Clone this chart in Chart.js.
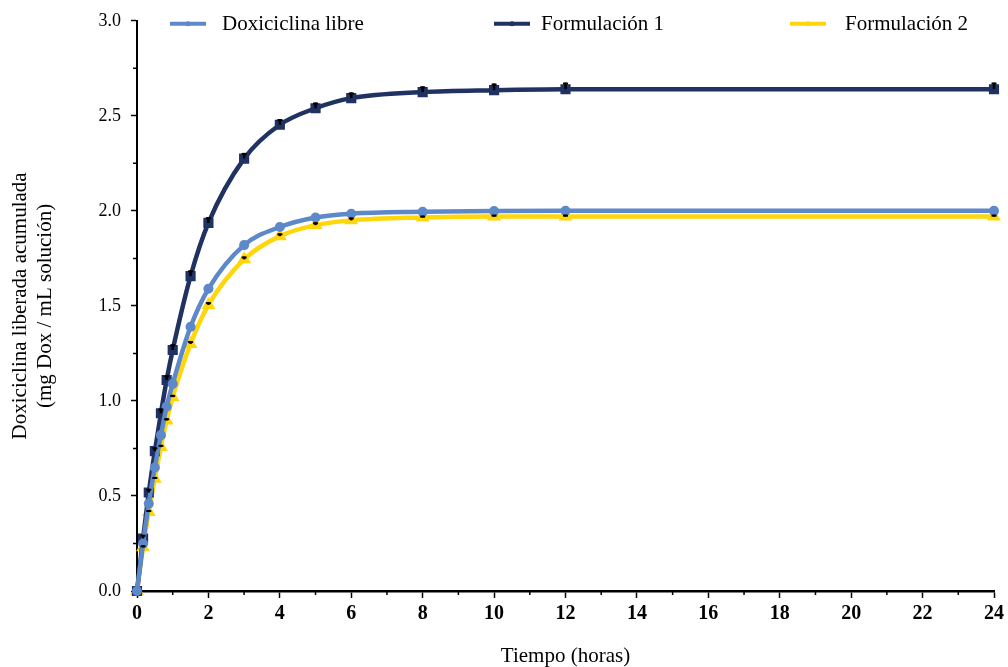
<!DOCTYPE html>
<html lang="es">
<head>
<meta charset="UTF-8">
<title>Doxiciclina liberada acumulada</title>
<script src="https://cdn.jsdelivr.net/npm/chart.js@4.4.1/dist/chart.umd.min.js"></script>
<style>
  html, body { margin: 0; padding: 0; background: #fff; }
</style>
</head>
<body>
<canvas id="grafico" width="1008" height="667"></canvas>
<script>
// tiempos de muestreo (horas)
const tiempos = [0, 0.17, 0.33, 0.5, 0.67, 0.83, 1, 1.5, 2, 3, 4, 5, 6, 8, 10, 12, 24];

// mg Dox / mL solucion
const doxLibre     = [0, 0.25, 0.46, 0.65, 0.82, 0.97, 1.09, 1.39, 1.59, 1.82, 1.915, 1.965, 1.985, 1.995, 1.999, 2.0, 2.0];
const formulacion1 = [0, 0.276, 0.518, 0.736, 0.935, 1.11, 1.268, 1.657, 1.937, 2.275, 2.453, 2.54, 2.593, 2.625, 2.635, 2.64, 2.64];
const formulacion2 = [0, 0.23, 0.416, 0.59, 0.757, 0.897, 1.02, 1.30, 1.505, 1.745, 1.867, 1.925, 1.95, 1.965, 1.97, 1.97, 1.97];

// desviacion (solo se ve la parte superior)
const errDoxLibre     = [0, 0, 0, 0, 0, 0, 0, 0, 0, 0, 0, 0, 0, 0, 0, 0, 0];
const errFormulacion1 = [0, 0.02, 0.02, 0.02, 0.025, 0.025, 0.03, 0.03, 0.03, 0.03, 0.03, 0.03, 0.03, 0.03, 0.035, 0.035, 0.035];
const errFormulacion2 = [0, 0.01, 0.01, 0.01, 0.012, 0.012, 0.012, 0.015, 0.015, 0.015, 0.015, 0.015, 0.015, 0.01, 0.01, 0.01, 0.01];

const series = ["Doxiciclina libre", "Formulación 1", "Formulación 2"];

const FUENTE = "'Liberation Serif', 'Times New Roman', serif";

function puntos(valores) {
  return tiempos.map((t, i) => ({ x: t, y: valores[i] }));
}

// barras de error hacia arriba, en negro
const barrasError = {
  id: "barrasError",
  afterDatasetsDraw(chart) {
    const ctx = chart.ctx;
    const xs = chart.scales.x, ys = chart.scales.y;
    ctx.save();
    ctx.strokeStyle = "#000";
    chart.data.datasets.forEach((ds) => {
      if (!ds.errores) return;
      ds.data.forEach((p, i) => {
        const e = ds.errores[i];
        if (!e) return;
        const x = xs.getPixelForValue(p.x);
        const y0 = ys.getPixelForValue(p.y);
        const y1 = ys.getPixelForValue(p.y + e);
        ctx.lineWidth = 2.5;
        ctx.beginPath();
        ctx.moveTo(x, y0);
        ctx.lineTo(x, y1);
        ctx.stroke();
        ctx.lineWidth = 2;
        ctx.beginPath();
        ctx.moveTo(x - 2.5, y1 + 1);
        ctx.lineTo(x + 2.5, y1 + 1);
        ctx.stroke();
      });
    });
    ctx.restore();
  }
};

// marcas menores mas cortas
const marcasMenores = {
  id: "marcasMenores",
  afterDraw(chart) {
    const ctx = chart.ctx;
    const xs = chart.scales.x, ys = chart.scales.y;
    ctx.save();
    ctx.strokeStyle = "#000";
    ctx.lineWidth = 1.5;
    ctx.beginPath();
    xs.ticks.forEach((t) => {
      if (t.value % 2 === 0) return;
      const x = xs.getPixelForValue(t.value);
      ctx.moveTo(x, ys.bottom);
      ctx.lineTo(x, ys.bottom + 4);
    });
    ys.ticks.forEach((t) => {
      if (Math.round(t.value * 4) % 2 === 0) return;
      const y = ys.getPixelForValue(t.value);
      ctx.moveTo(xs.left, y);
      ctx.lineTo(xs.left - 4, y);
    });
    ctx.stroke();
    ctx.restore();
  }
};

// leyenda dentro del area del grafico, como en la figura
const leyenda = {
  id: "leyenda",
  afterDraw(chart, args, opts) {
    const ctx = chart.ctx;
    const area = chart.chartArea;
    ctx.save();
    chart.data.datasets.forEach((ds, i) => {
      const [lx, tx] = opts.pos[i];
      const y = area.top + 3;
      ctx.strokeStyle = ds.borderColor;
      ctx.lineWidth = 4;
      ctx.beginPath();
      ctx.moveTo(lx, y);
      ctx.lineTo(lx + 36, y);
      ctx.stroke();
      ctx.fillStyle = ds.borderColor;
      ctx.beginPath();
      ctx.arc(lx + 18, y, 2.5, 0, Math.PI * 2);
      ctx.fill();
      ctx.fillStyle = "#000";
      ctx.font = "21px " + FUENTE;
      ctx.textBaseline = "middle";
      ctx.textAlign = "left";
      ctx.fillText(ds.label, tx, y + 1);
    });
    ctx.restore();
  }
};

const marcaMayor = (paso) => (c) =>
  c.tick && Math.round(c.tick.value / paso) % 2 !== 0 ? "rgba(0,0,0,0)" : "#000";

new Chart(document.getElementById("grafico"), {
  type: "line",
  data: {
    datasets: [
      {
        label: series[0],
        data: puntos(doxLibre),
        errores: errDoxLibre,
        borderColor: "#5d88c9",
        backgroundColor: "#5d88c9",
        borderWidth: 4.5,
        pointStyle: "circle",
        pointRadius: 2.8,
        cubicInterpolationMode: "monotone"
      },
      {
        label: series[1],
        data: puntos(formulacion1),
        errores: errFormulacion1,
        borderColor: "#1f3262",
        backgroundColor: "#1f3262",
        borderWidth: 4.5,
        pointStyle: "rect",
        pointRadius: 4,
        cubicInterpolationMode: "monotone"
      },
      {
        label: series[2],
        data: puntos(formulacion2),
        errores: errFormulacion2,
        borderColor: "#ffd60a",
        backgroundColor: "#ffd60a",
        borderWidth: 4.5,
        pointStyle: "triangle",
        pointRadius: 3.5,
        cubicInterpolationMode: "monotone"
      }
    ]
  },
  options: {
    responsive: false,
    animation: false,
    clip: false,
    layout: { padding: { top: 19, right: 13, left: 0, bottom: 0 } },
    plugins: {
      legend: { display: false },
      tooltip: { enabled: false },
      leyenda: { pos: [[170, 222], [494, 541], [790, 845]] }
    },
    scales: {
      x: {
        type: "linear",
        min: 0,
        max: 24,
        afterFit: (s) => { s.height = 76; },
        ticks: {
          stepSize: 1,
          autoSkip: false,
          maxRotation: 0,
          padding: 4,
          color: "#000",
          font: { family: FUENTE, size: 20, weight: "bold" },
          callback: (v) => (v % 2 === 0 ? String(v) : "")
        },
        grid: { drawOnChartArea: false, tickLength: 7, color: "#000", tickColor: marcaMayor(1), tickWidth: 1.5 },
        border: { color: "#000", width: 2.5 },
        title: {
          display: true,
          text: "Tiempo (horas)",
          color: "#000",
          padding: 0,
          font: { family: FUENTE, size: 21, lineHeight: 1 }
        }
      },
      y: {
        min: 0,
        max: 3,
        afterFit: (s) => { s.width = 137; },
        ticks: {
          stepSize: 0.25,
          autoSkip: false,
          padding: 10,
          color: "#000",
          font: { family: FUENTE, size: 18 },
          callback: (v) => (Math.round(v * 4) % 2 === 0 ? v.toFixed(1) : "")
        },
        grid: { drawOnChartArea: false, tickLength: 6, color: "#000", tickColor: marcaMayor(0.25), tickWidth: 1.5 },
        border: { color: "#000", width: 2 },
        title: {
          display: true,
          text: ["Doxiciclina liberada acumulada", "(mg Dox / mL solución)"],
          color: "#000",
          padding: { top: 8, bottom: 0 },
          font: { family: FUENTE, size: 21, lineHeight: 1.2 }
        }
      }
    }
  },
  plugins: [barrasError, marcasMenores, leyenda]
});
</script>
</body>
</html>
